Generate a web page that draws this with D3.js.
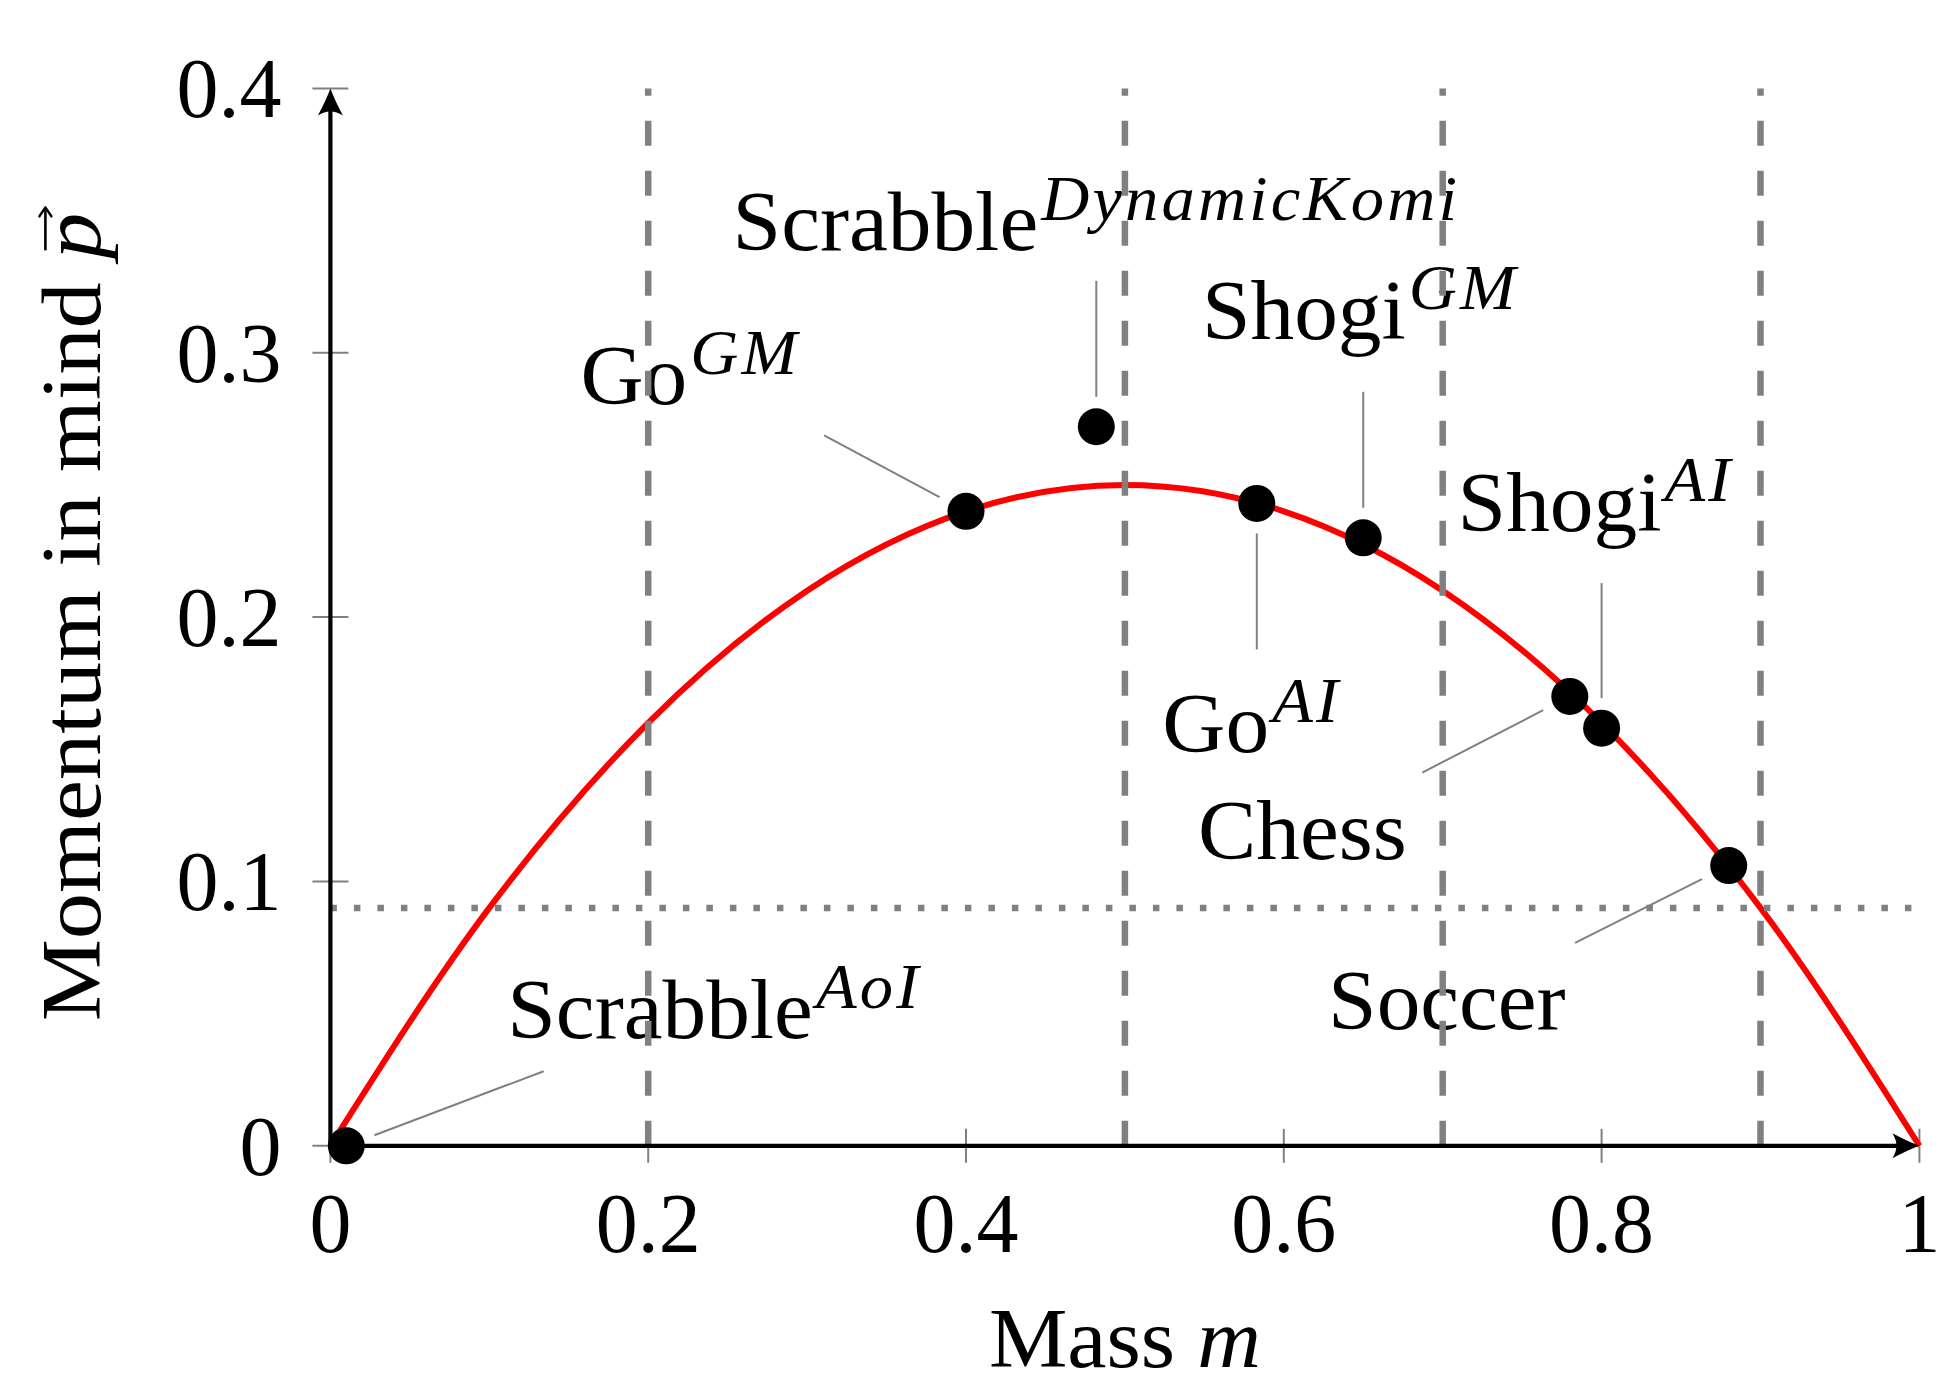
<!DOCTYPE html>
<html>
<head>
<meta charset="utf-8">
<script src="https://cdn.jsdelivr.net/npm/d3@7"></script>
<style>
body { margin: 0; background: #fff; }
text { font-family: "Liberation Serif", "Times New Roman", serif; fill: #000; }
</style>
</head>
<body>
<svg width="1957" height="1387"></svg>
<script>
// games and where they sit on the curve
var games = ["Scrabble", "Go", "Scrabble", "Go", "Shogi", "Chess", "Shogi", "Soccer"],
    levels = ["AoI", "GM", "DynamicKomi", "AI", "GM", "", "AI", ""],
    mass = [0.01, 0.40, 0.482, 0.583, 0.65, 0.78, 0.80, 0.88],
    momentum = [0, 0.24, 0.272, 0.243, 0.23, 0.17, 0.158, 0.106];

// red curve
var curveMass = [0, 0.1, 0.2, 0.3, 0.4, 0.5, 0.6, 0.7, 0.8, 0.9, 1],
    curveMomentum = [0, 0.09, 0.16, 0.21, 0.24, 0.25, 0.24, 0.21, 0.16, 0.09, 0];

var xTicks = [0, 0.2, 0.4, 0.6, 0.8, 1],
    yTicks = [0, 0.1, 0.2, 0.3, 0.4],
    splits = [0.2, 0.5, 0.7, 0.9],
    threshold = [0.09];

// pin placement for each label (angle in degrees, pin length, text anchor, offset of text from dot)
var pins = [
  {ang: 20.7,  len: 211, anchor: "start",  dx: 161,  dy: -108},
  {ang: 151.8, len: 161, anchor: "end",    dx: -166, dy: -107},
  {ang: 90,    len: 146, anchor: "middle", dx: 0,    dy: -177},
  {ang: 270,   len: 146, anchor: "middle", dx: -5,   dy: 249},
  {ang: 90,    len: 146, anchor: "middle", dx: -3,   dy: -199},
  {ang: 207.3, len: 166, anchor: "end",    dx: -163, dy: 163},
  {ang: 90,    len: 145, anchor: "middle", dx: -6,   dy: -197},
  {ang: 206.7, len: 172, anchor: "end",    dx: -163, dy: 163}
];

var svg = d3.select("svg"),
    grey = "#808080";

var x = d3.scaleLinear().domain([0, 1]).range([330.4, 1919.4]),
    y = d3.scaleLinear().domain([0, 0.4]).range([1145.8, 88.4]);

svg.append("rect").attr("width", 1957).attr("height", 1387).attr("fill", "#fff");

// tick marks (grey, both sides of the axis)
svg.append("g").selectAll("line").data(xTicks).enter().append("line")
  .attr("x1", function(d){ return x(d); }).attr("x2", function(d){ return x(d); })
  .attr("y1", y(0) - 17).attr("y2", y(0) + 17)
  .attr("stroke", grey).attr("stroke-width", 2);
svg.append("g").selectAll("line").data(yTicks).enter().append("line")
  .attr("y1", function(d){ return y(d); }).attr("y2", function(d){ return y(d); })
  .attr("x1", x(0) - 18).attr("x2", x(0) + 18)
  .attr("stroke", grey).attr("stroke-width", 2);

// tick labels
svg.append("g").selectAll("text").data(xTicks).enter().append("text")
  .attr("x", function(d){ return x(d); }).attr("y", y(0) + 106)
  .attr("text-anchor", "middle").attr("font-size", 84)
  .text(function(d){ return String(d); });
svg.append("g").selectAll("text").data(yTicks).enter().append("text")
  .attr("x", x(0) - 49).attr("y", function(d){ return y(d) + 29; })
  .attr("text-anchor", "end").attr("font-size", 84)
  .text(function(d){ return String(d); });

// the red curve
var line = d3.line()
  .x(function(d){ return x(d[0]); })
  .y(function(d){ return y(d[1]); })
  .curve(d3.curveMonotoneX);
svg.append("path")
  .datum(d3.zip(curveMass, curveMomentum))
  .attr("d", line)
  .attr("fill", "none").attr("stroke", "#ff0000").attr("stroke-width", 6);

// pins
svg.append("g").selectAll("line").data(pins).enter().append("line")
  .attr("x1", function(p, i){ return x(mass[i]) + 30 * Math.cos(p.ang * Math.PI / 180); })
  .attr("y1", function(p, i){ return y(momentum[i]) - 30 * Math.sin(p.ang * Math.PI / 180); })
  .attr("x2", function(p, i){ return x(mass[i]) + p.len * Math.cos(p.ang * Math.PI / 180); })
  .attr("y2", function(p, i){ return y(momentum[i]) - p.len * Math.sin(p.ang * Math.PI / 180); })
  .attr("stroke", grey).attr("stroke-width", 2);

// labels with superscripts
pins.forEach(function(p, i){
  var g = svg.append("g")
    .attr("transform", "translate(" + (x(mass[i]) + p.dx) + "," + (y(momentum[i]) + p.dy) + ") scale(1.04,1)");
  var t = g.append("text").attr("text-anchor", p.anchor).attr("font-size", 84);
  t.append("tspan").text(games[i]);
  if (levels[i]) {
    t.append("tspan").attr("dx", 3).attr("dy", -30)
      .attr("font-size", 64).attr("font-style", "italic").attr("letter-spacing", 3)
      .text(levels[i]);
  }
});

// dashed separators and dotted threshold, drawn over the labels
svg.append("g").selectAll("line").data(splits).enter().append("line")
  .attr("x1", function(d){ return x(d); }).attr("x2", function(d){ return x(d); })
  .attr("y1", y(0)).attr("y2", y(0.4))
  .attr("stroke", grey).attr("stroke-width", 6.5).attr("stroke-dasharray", "25 25");
svg.append("g").selectAll("line").data(threshold).enter().append("line")
  .attr("x1", x(0)).attr("x2", x(1))
  .attr("y1", function(d){ return y(d); }).attr("y2", function(d){ return y(d); })
  .attr("stroke", grey).attr("stroke-width", 6.5).attr("stroke-dasharray", "6.5 17");

// axes with arrow heads
var head = "M0,0 Q-11,-4 -27,-12.5 Q-19,0 -27,12.5 Q-11,4 0,0 Z";
svg.append("line").attr("x1", x(0)).attr("x2", x(1) - 6).attr("y1", y(0)).attr("y2", y(0))
  .attr("stroke", "#000").attr("stroke-width", 4.2);
svg.append("line").attr("x1", x(0)).attr("x2", x(0)).attr("y1", y(0) + 2.1).attr("y2", y(0.4) + 6)
  .attr("stroke", "#000").attr("stroke-width", 4.2);
svg.append("path").attr("d", head).attr("transform", "translate(" + x(1) + "," + y(0) + ")");
svg.append("path").attr("d", head).attr("transform", "translate(" + x(0) + "," + y(0.4) + ") rotate(-90)");

// dots
svg.append("g").selectAll("circle").data(mass).enter().append("circle")
  .attr("cx", function(d){ return x(d); })
  .attr("cy", function(d, i){ return y(momentum[i]); })
  .attr("r", 18.5).attr("fill", "#000");

// axis titles
svg.append("g").attr("transform", "translate(" + x(0.5) + ",1366.6) scale(1.05,1)")
  .append("text").attr("text-anchor", "middle").attr("font-size", 84)
  .call(function(t){
    t.append("tspan").text("Mass ");
    t.append("tspan").attr("font-style", "italic").text("m");
  });

var yt = svg.append("g").attr("transform", "translate(100.4," + y(0.2) + ") rotate(-90) scale(1.1,1)");
var ytext = yt.append("text").attr("text-anchor", "middle").attr("font-size", 84);
ytext.append("tspan").text("Momentum in mind ");
ytext.append("tspan").attr("font-style", "italic").text("p");
var node = ytext.node(), n = node.getNumberOfChars() - 1,
    ps = node.getStartPositionOfChar(n).x, pe = node.getEndPositionOfChar(n).x;
// vector arrow above the p
yt.append("line").attr("x1", ps + 8).attr("x2", pe + 4).attr("y1", -55).attr("y2", -55)
  .attr("stroke", "#000").attr("stroke-width", 2.6);
yt.append("path").attr("d", "M-8,-6 L0,0 L-8,6")
  .attr("fill", "none").attr("stroke", "#000").attr("stroke-width", 2.4)
  .attr("stroke-linecap", "round").attr("stroke-linejoin", "round")
  .attr("transform", "translate(" + (pe + 5) + ",-55)");
</script>
</body>
</html>
